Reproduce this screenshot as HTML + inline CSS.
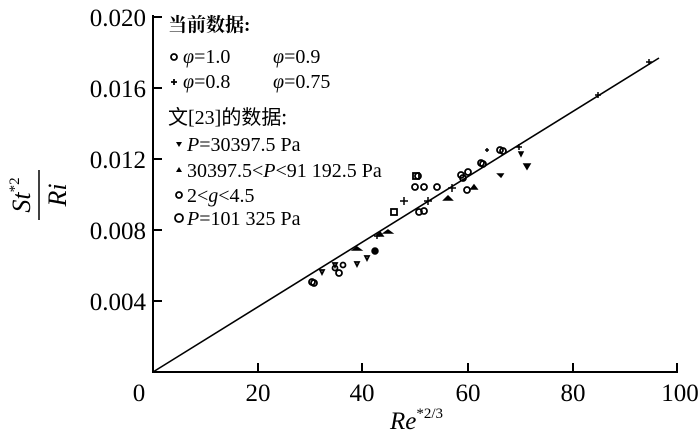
<!DOCTYPE html>
<html><head><meta charset="utf-8"><style>
body{margin:0;background:#fff}
svg{display:block}
text{font-family:"Liberation Serif","Noto Serif CJK SC",serif;fill:#000}
</style></head><body>
<svg width="700" height="438" viewBox="0 0 700 438" xmlns="http://www.w3.org/2000/svg">
<g stroke="#000" stroke-width="2" fill="none">
<path d="M153,15 V372 H678"/>
<path d="M153,301 h9 M153,230 h9 M153,159 h9 M153,88 h9 M153,17 h9"/>
<path d="M258,372 v-9 M362,372 v-9 M468,372 v-9 M573,372 v-9 M677,372 v-9"/>
</g>
<line x1="153" y1="372" x2="659" y2="58" stroke="#000" stroke-width="1.6"/>
<g font-size="25" text-anchor="end">
<text x="146" y="26">0.020</text>
<text x="146" y="97">0.016</text>
<text x="146" y="168">0.012</text>
<text x="146" y="239">0.008</text>
<text x="146" y="310">0.004</text>
</g>
<g font-size="25" text-anchor="middle">
<text x="139" y="401">0</text>
<text x="258" y="401">20</text>
<text x="362" y="401">40</text>
<text x="468" y="401">60</text>
<text x="573" y="401">80</text>
<text x="680" y="401">100</text>
</g>
<text x="390" y="429" font-size="25" font-style="italic">Re<tspan font-size="15" dy="-11" font-style="normal">*2/3</tspan></text>
<g transform="translate(30,195) rotate(-90)">
<text x="0" y="0" font-size="26" font-style="italic" text-anchor="middle">St<tspan font-size="15" dy="-11" font-style="normal">*2</tspan></text>
<line x1="-25" y1="9" x2="25" y2="9" stroke="#000" stroke-width="1.5"/>
<text x="0" y="36" font-size="26" font-style="italic" text-anchor="middle">Ri</text>
</g>
<g font-size="20">
<text x="168" y="31" font-family="'Noto Sans CJK SC',sans-serif" font-weight="bold" font-size="19">当前数据:</text>
<text x="183" y="63"><tspan font-style="italic">φ</tspan>=1.0</text>
<text x="273" y="63"><tspan font-style="italic">φ</tspan>=0.9</text>
<text x="183" y="88"><tspan font-style="italic">φ</tspan>=0.8</text>
<text x="273" y="88"><tspan font-style="italic">φ</tspan>=0.75</text>
<text x="168" y="124"><tspan font-family="'Noto Sans CJK SC',sans-serif">文</tspan>[23]<tspan font-family="'Noto Sans CJK SC',sans-serif">的数据:</tspan></text>
<text x="187" y="151"><tspan font-style="italic">P</tspan>=30397.5 Pa</text>
<text x="187" y="177">30397.5&lt;<tspan font-style="italic">P</tspan>&lt;91 192.5 Pa</text>
<text x="187" y="202">2&lt;<tspan font-style="italic">g</tspan>&lt;4.5</text>
<text x="187" y="225"><tspan font-style="italic">P</tspan>=101 325 Pa</text>
</g>
<g stroke="#000" stroke-width="1.8" fill="none">
<circle cx="174" cy="57" r="3"/>
<circle cx="179" cy="195" r="3"/>
<circle cx="179" cy="218" r="4"/>
</g>
<g fill="#000">
<path d="M171,82h6M174,79v6" stroke="#000" stroke-width="1.8"/>
<path d="M176,142 l6,0 -3,5z"/>
<path d="M176,172 l6,0 -3,-5z"/>
</g>
<g stroke="#000" stroke-width="1.8" fill="none">
<circle cx="312" cy="282" r="3"/><circle cx="314" cy="283" r="3"/>
<circle cx="335" cy="268" r="2.5"/><circle cx="339" cy="273" r="3"/><circle cx="343" cy="265" r="2.5"/>
<circle cx="415" cy="187" r="3"/><circle cx="418" cy="176" r="3"/><circle cx="424" cy="187" r="3"/><circle cx="437" cy="187" r="3"/>
<circle cx="419" cy="212" r="3"/><circle cx="424" cy="211" r="3"/>
<circle cx="461" cy="175" r="3"/><circle cx="463" cy="178" r="3"/><circle cx="468" cy="172" r="3"/>
<circle cx="467" cy="190" r="3"/><circle cx="481" cy="163" r="3"/><circle cx="483" cy="164" r="3"/>
<circle cx="500" cy="150" r="3"/><circle cx="503" cy="151" r="3"/>
<rect x="391" y="209" width="6" height="6"/><rect x="413" y="173" width="6" height="6"/>
<path d="M320,270l4,0-2,4z M355,262l4,0-2,4z M365,256l4,0-2,4z M333,263l4,0-2,4z"/>
</g>
<g fill="#000" stroke="#000" stroke-width="1.5">
<circle cx="375" cy="251" r="3"/>
<path d="M357,247l-4,3h8z M388,230l-4,3h8z M448,196l-4,4h8z M474,185l-3,4h6z M380,232l-3,4h6z"/>
<path d="M524,164l6,0-3,5z M519,152l4,0-2,4z M498,174l5,0 -2,3z"/>
<path d="M400,201h8M404,197v8 M424,201h8M428,197v8 M448,188h8M452,184v8 M374,236h6M377,233v6 M516,147h6M519,144v6 M595,95h6M598,92v6 M646,62h6M649,59v6 M485,150h4 M487,148v4"/>
</g>
</svg>
</body></html>
